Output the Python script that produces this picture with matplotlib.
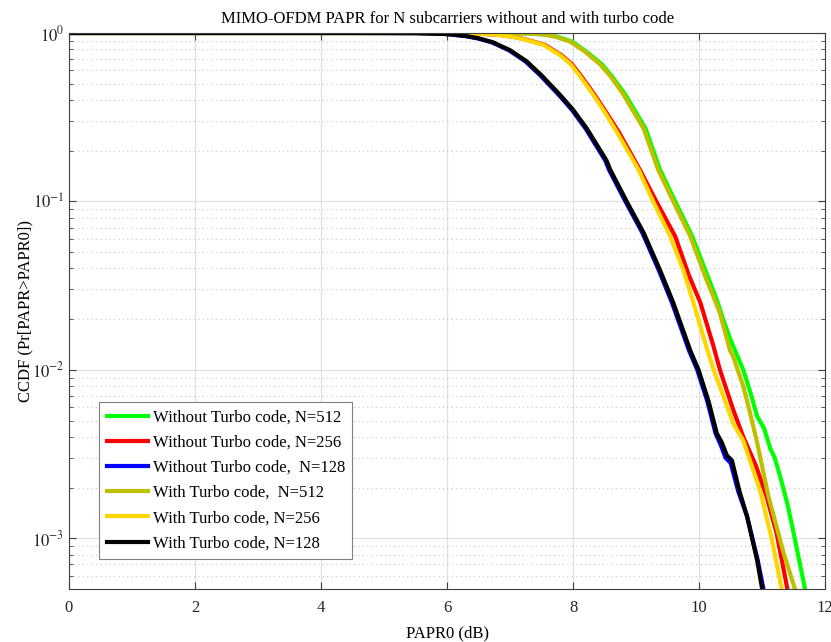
import matplotlib
matplotlib.use("Agg")
import matplotlib.pyplot as plt
from matplotlib.ticker import LogLocator, NullFormatter, FixedFormatter, FixedLocator

plt.rcParams["font.family"] = ["Liberation Serif", "DejaVu Serif"]
plt.rcParams["mathtext.fontset"] = "stix"

# CCDF curves (x = PAPR0 in dB, y = CCDF)
x_wo_512 = [0, 5.5, 6.6, 7.0, 7.3, 7.55, 7.75, 7.98, 8.2, 8.46, 8.62, 8.83, 9.15, 9.38, 9.62,
            9.89, 10.16, 10.28, 10.38, 10.5, 10.70, 10.82, 10.92, 11.03, 11.13, 11.2, 11.29,
            11.4, 11.5, 11.68]
y_wo_512 = [1, 1, 0.9995, 0.998, 0.993, 0.98, 0.95, 0.89, 0.78, 0.65, 0.55, 0.43, 0.27, 0.154, 0.10,
            0.062, 0.034, 0.026, 0.02, 0.015, 0.010, 0.0072, 0.0053, 0.0045, 0.0034, 0.0030, 0.0023,
            0.0016, 0.00107, 0.0005]

x_wo_256 = [0, 5.0, 6.0, 6.5, 6.82, 7.12, 7.32, 7.55, 7.81, 7.97, 8.12, 8.34, 8.52, 8.72, 9.06,
            9.32, 9.62, 9.83, 10.02, 10.23, 10.33, 10.54, 10.70, 10.9, 11.07, 11.23, 11.40]
y_wo_256 = [1, 1, 0.999, 0.99, 0.975, 0.94, 0.90, 0.85, 0.74, 0.66, 0.56, 0.43, 0.34, 0.26, 0.154,
            0.10, 0.062, 0.037, 0.025, 0.0137, 0.010, 0.0058, 0.004, 0.0027, 0.00177, 0.00107, 0.0005]

x_wo_128 = [0, 4.5, 5.5, 5.98, 6.28, 6.48, 6.71, 6.98, 7.24, 7.48, 7.77, 7.98, 8.20, 8.51, 8.57,
            8.83, 9.10, 9.36, 9.57, 9.84, 9.97, 10.13, 10.26, 10.34, 10.42, 10.5, 10.62, 10.76,
            10.93, 11.02]
y_wo_128 = [1, 1, 0.9985, 0.986, 0.96, 0.93, 0.88, 0.79, 0.68, 0.56, 0.43, 0.35, 0.27, 0.175, 0.154,
            0.10, 0.065, 0.039, 0.025, 0.013, 0.010, 0.0065, 0.0042, 0.0036, 0.0030, 0.0028, 0.0019,
            0.00135, 0.00074, 0.0005]

x_w_512 = [0, 5.5, 6.6, 7.0, 7.3, 7.53, 7.72, 7.95, 8.18, 8.43, 8.6, 8.80, 9.12, 9.35, 9.59,
           9.86, 10.12, 10.23, 10.33, 10.49, 10.54, 10.70, 10.81, 10.92, 11.1, 11.34, 11.52]
y_w_512 = [1, 1, 0.9995, 0.998, 0.993, 0.98, 0.95, 0.89, 0.78, 0.65, 0.55, 0.43, 0.27, 0.154, 0.10,
           0.062, 0.034, 0.027, 0.0217, 0.013, 0.012, 0.008, 0.0055, 0.0037, 0.00177, 0.00082, 0.0005]

x_w_256 = [0, 5.0, 6.0, 6.5, 6.8, 7.1, 7.3, 7.53, 7.79, 7.95, 8.1, 8.32, 8.5, 8.69, 9.04,
           9.27, 9.54, 9.75, 9.91, 10.12, 10.23, 10.39, 10.54, 10.70, 10.97, 11.15, 11.31]
y_w_256 = [1, 1, 0.999, 0.99, 0.975, 0.94, 0.90, 0.85, 0.74, 0.66, 0.56, 0.43, 0.34, 0.26, 0.154,
           0.10, 0.062, 0.039, 0.025, 0.0135, 0.010, 0.0069, 0.0048, 0.0038, 0.0019, 0.001, 0.0005]

x_w_128 = [0, 4.5, 5.5, 6.0, 6.3, 6.5, 6.73, 7.0, 7.26, 7.5, 7.79, 8.0, 8.22, 8.53, 8.59,
           8.85, 9.12, 9.38, 9.59, 9.86, 9.99, 10.15, 10.28, 10.36, 10.44, 10.52, 10.64, 10.76,
           10.92, 11.0]
y_w_128 = [1, 1, 0.9985, 0.986, 0.96, 0.93, 0.88, 0.79, 0.68, 0.56, 0.43, 0.35, 0.27, 0.175, 0.154,
           0.10, 0.065, 0.039, 0.025, 0.013, 0.010, 0.0065, 0.0042, 0.0037, 0.0031, 0.0029, 0.0019,
           0.00135, 0.00074, 0.0005]

series = [
    (x_wo_512, y_wo_512, "#00ff00", "Without Turbo code, N=512"),
    (x_wo_256, y_wo_256, "#ff0000", "Without Turbo code, N=256"),
    (x_wo_128, y_wo_128, "#0000ff", "Without Turbo code,  N=128"),
    (x_w_512, y_w_512, "#bfbf00", "With Turbo code,  N=512"),
    (x_w_256, y_w_256, "#ffd700", "With Turbo code, N=256"),
    (x_w_128, y_w_128, "#000000", "With Turbo code, N=128"),
]

yticks = [1e-3, 1e-2, 1e-1, 1]
ytick_labels = ["$10^{-3}$", "$10^{-2}$", "$10^{-1}$", "$10^{0}$"]

fig = plt.figure(figsize=(8.31, 6.42), dpi=100)
ax = fig.add_axes([0.083, 0.0826, 0.910, 0.866])

for xs, ys, col, lab in series:
    ax.semilogy(xs, ys, color=col, lw=3.0, label=lab)

ax.set_xlim(0, 12)
ax.set_ylim(5e-4, 1)
ax.set_xticks(range(0, 13, 2))
ax.yaxis.set_major_locator(FixedLocator(yticks))
ax.yaxis.set_major_formatter(FixedFormatter(ytick_labels))
ax.yaxis.set_minor_locator(LogLocator(base=10, subs=range(2, 10), numticks=10))
ax.yaxis.set_minor_formatter(NullFormatter())

ax.grid(True, which="major", color="#e0e0e0", lw=0.9, ls="-")
ax.grid(True, which="minor", axis="y", color="#c4c4c4", lw=0.8, ls=(0, (1, 3)))
ax.set_axisbelow(True)

for s in ax.spines.values():
    s.set_color("#404040")
    s.set_linewidth(0.8)
ax.tick_params(which="both", direction="in", top=True, right=True,
               colors="#404040", labelcolor="#262626", labelsize=12)
ax.tick_params(axis="x", which="major", pad=8)
ax.tick_params(which="major", length=5)
ax.tick_params(which="minor", length=3)

ax.set_title("MIMO-OFDM PAPR for N subcarriers without and with turbo code", fontsize=12, pad=7)
ax.set_xlabel("PAPR0 (dB)", fontsize=12, labelpad=7)
ax.set_ylabel("CCDF (Pr[PAPR>PAPR0])", fontsize=12, labelpad=-1)

leg = ax.legend(loc="lower left", bbox_to_anchor=(0.04, 0.054), borderaxespad=0,
                fontsize=12, fancybox=False, framealpha=1, edgecolor="#808080",
                handlelength=2.5, handletextpad=0.25, labelspacing=0.55, borderpad=0.45)
leg.get_frame().set_linewidth(0.8)

fig.savefig("out.png", dpi=100)
